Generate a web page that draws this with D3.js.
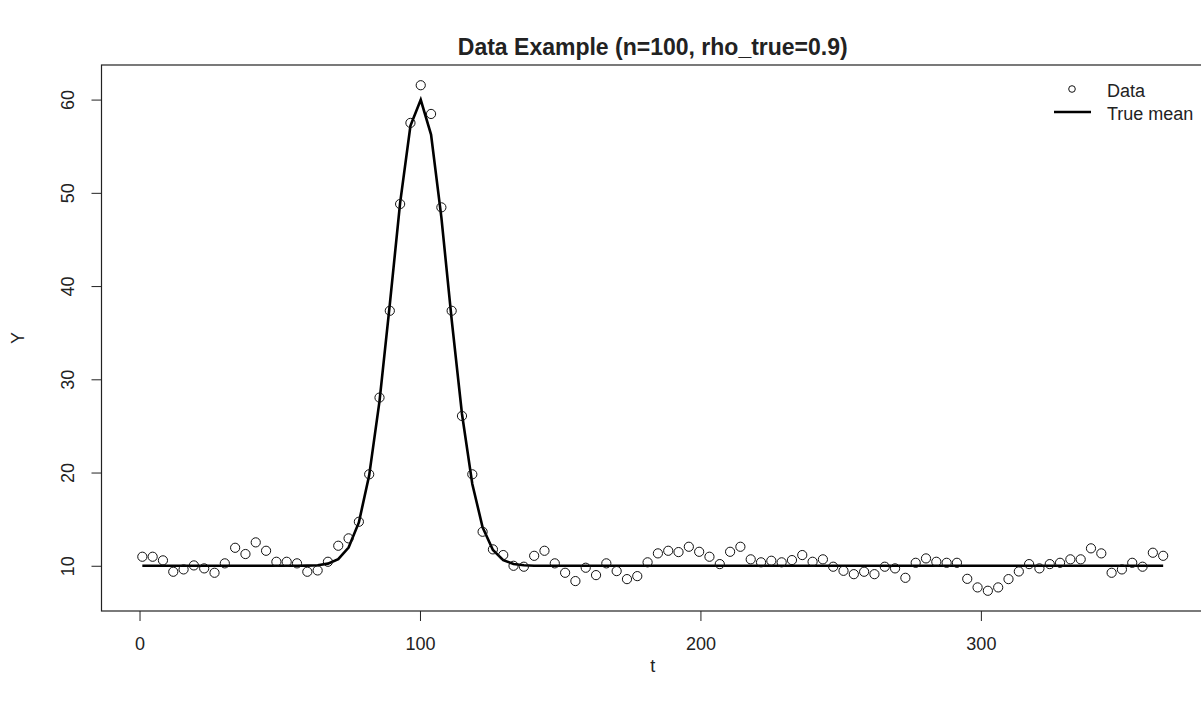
<!DOCTYPE html>
<html>
<head>
<meta charset="utf-8">
<script src="https://cdn.jsdelivr.net/npm/d3@7"></script>
<style>
  body { margin: 0; background: #fff; }
  text { font-family: "Liberation Sans", Arial, sans-serif; fill: #222; }
</style>
</head>
<body>
<div id="chart"></div>
<script>
// time points (t)
var tValues = [
  1.00, 4.68, 8.35, 12.03, 15.71, 19.38, 23.06, 26.74, 30.41, 34.09,
  37.77, 41.44, 45.12, 48.80, 52.47, 56.15, 59.83, 63.51, 67.18, 70.86,
  74.54, 78.21, 81.89, 85.57, 89.24, 92.92, 96.60, 100.27, 103.95, 107.63,
  111.30, 114.98, 118.66, 122.33, 126.01, 129.69, 133.36, 137.04, 140.72, 144.39,
  148.07, 151.75, 155.42, 159.10, 162.78, 166.45, 170.13, 173.81, 177.48, 181.16,
  184.84, 188.52, 192.19, 195.87, 199.55, 203.22, 206.90, 210.58, 214.25, 217.93,
  221.61, 225.28, 228.96, 232.64, 236.31, 239.99, 243.67, 247.34, 251.02, 254.70,
  258.37, 262.05, 265.73, 269.40, 273.08, 276.76, 280.43, 284.11, 287.79, 291.46,
  295.14, 298.82, 302.49, 306.17, 309.85, 313.53, 317.20, 320.88, 324.56, 328.23,
  331.91, 335.59, 339.26, 342.94, 346.62, 350.29, 353.97, 357.65, 361.32, 365.00
];

// observed Y
var yData = [
  10.97, 10.97, 10.58, 9.36, 9.61, 10.04, 9.72, 9.25, 10.26, 11.93,
  11.26, 12.51, 11.61, 10.43, 10.43, 10.26, 9.36, 9.50, 10.43, 12.15,
  12.94, 14.72, 19.81, 28.04, 37.35, 48.80, 57.50, 61.54, 58.46, 48.44,
  37.35, 26.07, 19.81, 13.65, 11.76, 11.15, 10.00, 9.90, 11.07, 11.61,
  10.26, 9.25, 8.36, 9.79, 9.00, 10.26, 9.43, 8.57, 8.89, 10.37,
  11.33, 11.61, 11.47, 12.04, 11.50, 10.97, 10.18, 11.50, 12.04, 10.69,
  10.37, 10.54, 10.37, 10.61, 11.15, 10.43, 10.69, 9.90, 9.46, 9.10,
  9.36, 9.10, 9.90, 9.72, 8.71, 10.32, 10.79, 10.43, 10.32, 10.32,
  8.60, 7.68, 7.32, 7.68, 8.57, 9.39, 10.18, 9.72, 10.18, 10.32,
  10.69, 10.69, 11.87, 11.33, 9.25, 9.61, 10.32, 9.90, 11.40, 11.07
];

// true mean
var yMean = [
  10.00, 10.00, 10.00, 10.00, 10.00, 10.00, 10.00, 10.00, 10.00, 10.00,
  10.00, 10.00, 10.00, 10.00, 10.00, 10.00, 10.02, 10.06, 10.23, 10.72,
  11.96, 14.65, 19.70, 27.65, 38.03, 48.92, 57.19, 59.98, 56.25, 47.37,
  36.40, 26.28, 18.77, 14.13, 11.70, 10.61, 10.19, 10.05, 10.01, 10.00,
  10.00, 10.00, 10.00, 10.00, 10.00, 10.00, 10.00, 10.00, 10.00, 10.00,
  10.00, 10.00, 10.00, 10.00, 10.00, 10.00, 10.00, 10.00, 10.00, 10.00,
  10.00, 10.00, 10.00, 10.00, 10.00, 10.00, 10.00, 10.00, 10.00, 10.00,
  10.00, 10.00, 10.00, 10.00, 10.00, 10.00, 10.00, 10.00, 10.00, 10.00,
  10.00, 10.00, 10.00, 10.00, 10.00, 10.00, 10.00, 10.00, 10.00, 10.00,
  10.00, 10.00, 10.00, 10.00, 10.00, 10.00, 10.00, 10.00, 10.00, 10.00
];

var xTicks = [0, 100, 200, 300];
var yTicks = [10, 20, 30, 40, 50, 60];
var legendLabels = ["Data", "True mean"];

var width = 1201, height = 704;
var box = { left: 101.5, right: 1204, top: 65, bottom: 611 };
var labelFont = "18px";

var svg = d3.select("#chart").append("svg")
  .attr("width", width)
  .attr("height", height);

// R style: 4% padding around data range
var x = d3.scaleLinear().domain([-13.56, 379.56]).range([box.left, box.right]);
var y = d3.scaleLinear().domain([5.15, 63.71]).range([box.bottom, box.top]);

// title
svg.append("text")
  .attr("x", (box.left + box.right) / 2)
  .attr("y", 55)
  .attr("text-anchor", "middle")
  .style("font-size", "23px")
  .style("font-weight", "bold")
  .text("Data Example (n=100, rho_true=0.9)");

// x axis
var xAxis = svg.append("g")
  .attr("transform", "translate(0," + box.bottom + ")")
  .call(d3.axisBottom(x).tickValues(xTicks).tickSize(10).tickPadding(16).tickFormat(d3.format("d")));
xAxis.select(".domain").remove();
xAxis.selectAll("line").attr("stroke", "#222");
xAxis.selectAll("text").style("font-size", labelFont).style("font-family", "Liberation Sans, Arial, sans-serif").attr("fill", "#222");

// y axis
var yAxis = svg.append("g")
  .attr("transform", "translate(" + box.left + ",0)")
  .call(d3.axisLeft(y).tickValues(yTicks).tickSize(10).tickFormat(d3.format("d")));
yAxis.select(".domain").remove();
yAxis.selectAll("line").attr("stroke", "#222");
yAxis.selectAll("text")
  .style("font-size", labelFont)
  .style("font-family", "Liberation Sans, Arial, sans-serif")
  .attr("fill", "#222")
  .attr("text-anchor", "middle")
  .attr("x", 0)
  .attr("dy", null)
  .attr("transform", "translate(-34,0) rotate(-90)")
  .attr("y", 6);

// axis titles
svg.append("text")
  .attr("x", (box.left + box.right) / 2)
  .attr("y", 672)
  .attr("text-anchor", "middle")
  .style("font-size", labelFont)
  .text("t");

svg.append("text")
  .attr("transform", "translate(24," + ((box.top + box.bottom) / 2) + ") rotate(-90)")
  .attr("text-anchor", "middle")
  .style("font-size", labelFont)
  .text("Y");

// plot box
svg.append("rect")
  .attr("x", box.left)
  .attr("y", box.top)
  .attr("width", box.right - box.left)
  .attr("height", box.bottom - box.top)
  .attr("fill", "none")
  .attr("stroke", "#222")
  .attr("stroke-width", 1.2);

var pts = tValues.map(function (t, i) {
  return { t: t, y: yData[i], m: yMean[i] };
});

// true mean line
var meanLine = d3.line()
  .x(function (d) { return x(d.t); })
  .y(function (d) { return y(d.m); });

svg.append("path")
  .datum(pts)
  .attr("fill", "none")
  .attr("stroke", "#000")
  .attr("stroke-width", 2.6)
  .attr("stroke-linejoin", "miter")
  .attr("d", meanLine);

// data points
svg.append("g")
  .selectAll("circle")
  .data(pts)
  .join("circle")
  .attr("cx", function (d) { return x(d.t); })
  .attr("cy", function (d) { return y(d.y); })
  .attr("r", 4.6)
  .attr("fill", "none")
  .attr("stroke", "#111")
  .attr("stroke-width", 1);

// legend
var legend = svg.append("g").attr("transform", "translate(1054,89)");
legend.append("circle")
  .attr("cx", 18).attr("cy", 0).attr("r", 3.3)
  .attr("fill", "none").attr("stroke", "#111").attr("stroke-width", 1);
legend.append("line")
  .attr("x1", 0).attr("x2", 37).attr("y1", 23).attr("y2", 23)
  .attr("stroke", "#000").attr("stroke-width", 2.6);
legend.selectAll(".lab")
  .data(legendLabels)
  .join("text")
  .attr("class", "lab")
  .attr("x", 53)
  .attr("y", function (d, i) { return i * 23 + 8; })
  .style("font-size", labelFont)
  .text(function (d) { return d; });
</script>
</body>
</html>
